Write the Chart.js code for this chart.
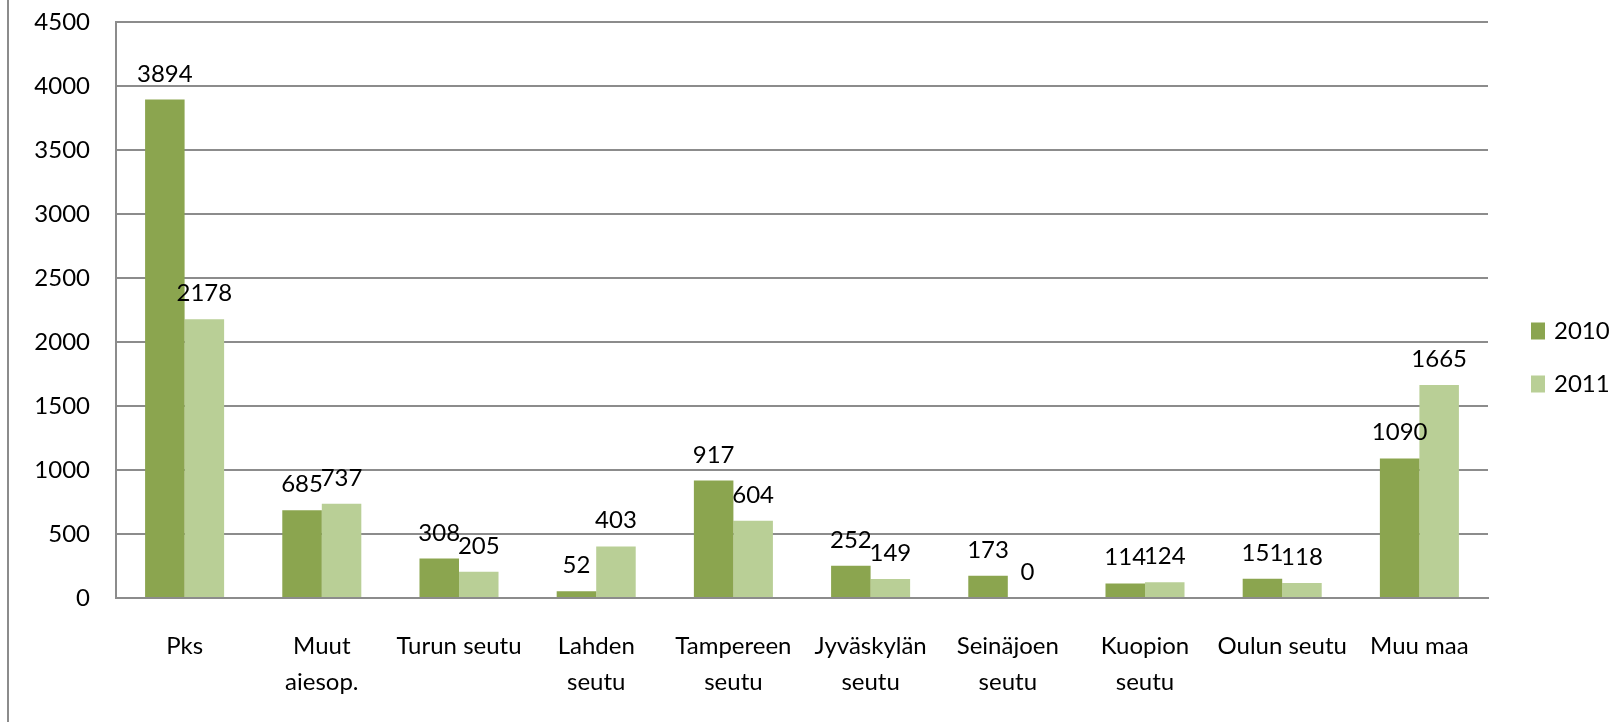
<!DOCTYPE html>
<html>
<head>
<meta charset="utf-8">
<script src="https://cdn.jsdelivr.net/npm/chart.js@4.4.0/dist/chart.umd.min.js"></script>
<style>
    html, body { margin: 0; padding: 0; background: #fff; }
    canvas { display: block; }
</style>
</head>
<body>
<canvas id="graficoSeutu" width="1619" height="722"></canvas>
<script>
document.addEventListener('DOMContentLoaded', function () {

    const categorias = [
        'Pks', ['Muut', 'aiesop.'], 'Turun seutu', ['Lahden', 'seutu'], ['Tampereen', 'seutu'],
        ['Jyväskylän', 'seutu'], ['Seinäjoen', 'seutu'], ['Kuopion', 'seutu'], 'Oulun seutu', 'Muu maa'
    ];
    const valores2010 = [3894, 685, 308, 52, 917, 252, 173, 114, 151, 1090];
    const valores2011 = [2178, 737, 205, 403, 604, 149, 0, 124, 118, 1665];
    const series = ['2010', '2011'];
    const ejeY = { min: 0, max: 4500, paso: 500 };

    const colores = ['#8ba54f', '#b9cf96'];
    const gris = '#8c8c8c';
    const fuente = { family: 'Lato', size: 24 };

    // etiquetas de valor encima de cada barra
    const etiquetasValor = {
        id: 'etiquetasValor',
        afterDatasetsDraw(chart) {
            const ctx = chart.ctx;
            ctx.save();
            ctx.font = `${fuente.size}px ${fuente.family}`;
            ctx.fillStyle = '#000';
            ctx.textAlign = 'center';
            ctx.textBaseline = 'alphabetic';
            chart.data.datasets.forEach((ds, i) => {
                chart.getDatasetMeta(i).data.forEach((barra, j) => {
                    ctx.fillText(String(ds.data[j]), barra.x, barra.y - 18);
                });
            });
            ctx.restore();
        }
    };

    // leyenda a la derecha, centrada verticalmente
    const leyenda = {
        id: 'leyendaDerecha',
        afterDraw(chart) {
            const ctx = chart.ctx;
            const x = chart.chartArea.right + 43;
            const sep = 53;
            const n = chart.data.datasets.length;
            let y = chart.height / 2 - 4 - sep * (n - 1) / 2;
            ctx.save();
            ctx.font = `${fuente.size}px ${fuente.family}`;
            ctx.textBaseline = 'middle';
            ctx.textAlign = 'left';
            chart.data.datasets.forEach(ds => {
                ctx.fillStyle = ds.backgroundColor;
                ctx.fillRect(x, y - 8, 14, 17);
                ctx.fillStyle = '#000';
                ctx.fillText(ds.label, x + 23, y + 1);
                y += sep;
            });
            ctx.restore();
        }
    };

    // borde izquierdo del marco
    const marco = {
        id: 'marco',
        beforeDraw(chart) {
            const ctx = chart.ctx;
            ctx.save();
            ctx.fillStyle = '#fff';
            ctx.fillRect(0, 0, chart.width, chart.height);
            ctx.fillStyle = gris;
            ctx.fillRect(7, 0, 2, chart.height);
            ctx.restore();
        }
    };

    new Chart(document.getElementById('graficoSeutu'), {
        type: 'bar',
        data: {
            labels: categorias,
            datasets: [
                { label: series[0], data: valores2010, backgroundColor: colores[0] },
                { label: series[1], data: valores2011, backgroundColor: colores[1] }
            ]
        },
        options: {
            responsive: false,
            animation: false,
            devicePixelRatio: 1,
            layout: { padding: { top: 22, right: 131, bottom: 0, left: 0 } },
            datasets: {
                bar: { barPercentage: 1, categoryPercentage: 0.576, borderWidth: 0 }
            },
            scales: {
                x: {
                    grid: { display: false, drawTicks: false },
                    border: { display: true, color: gris, width: 2 },
                    ticks: { color: '#000', font: { ...fuente, lineHeight: 1.5 }, padding: 30, maxRotation: 0, autoSkip: false },
                    afterFit(scale) { scale.height = 124; }
                },
                y: {
                    min: ejeY.min,
                    max: ejeY.max,
                    grid: { color: gris, lineWidth: 2, drawTicks: false },
                    border: { display: true, color: gris, width: 2 },
                    ticks: {
                        stepSize: ejeY.paso, color: '#000', font: fuente, padding: 26,
                        callback: v => String(v)
                    },
                    afterFit(scale) {
                        scale.width = 116;
                        scale.paddingTop = 0;
                        scale.paddingBottom = 0;
                    }
                }
            },
            plugins: {
                legend: { display: false },
                tooltip: { enabled: false }
            }
        },
        plugins: [marco, etiquetasValor, leyenda]
    });
});
</script>
</body>
</html>
